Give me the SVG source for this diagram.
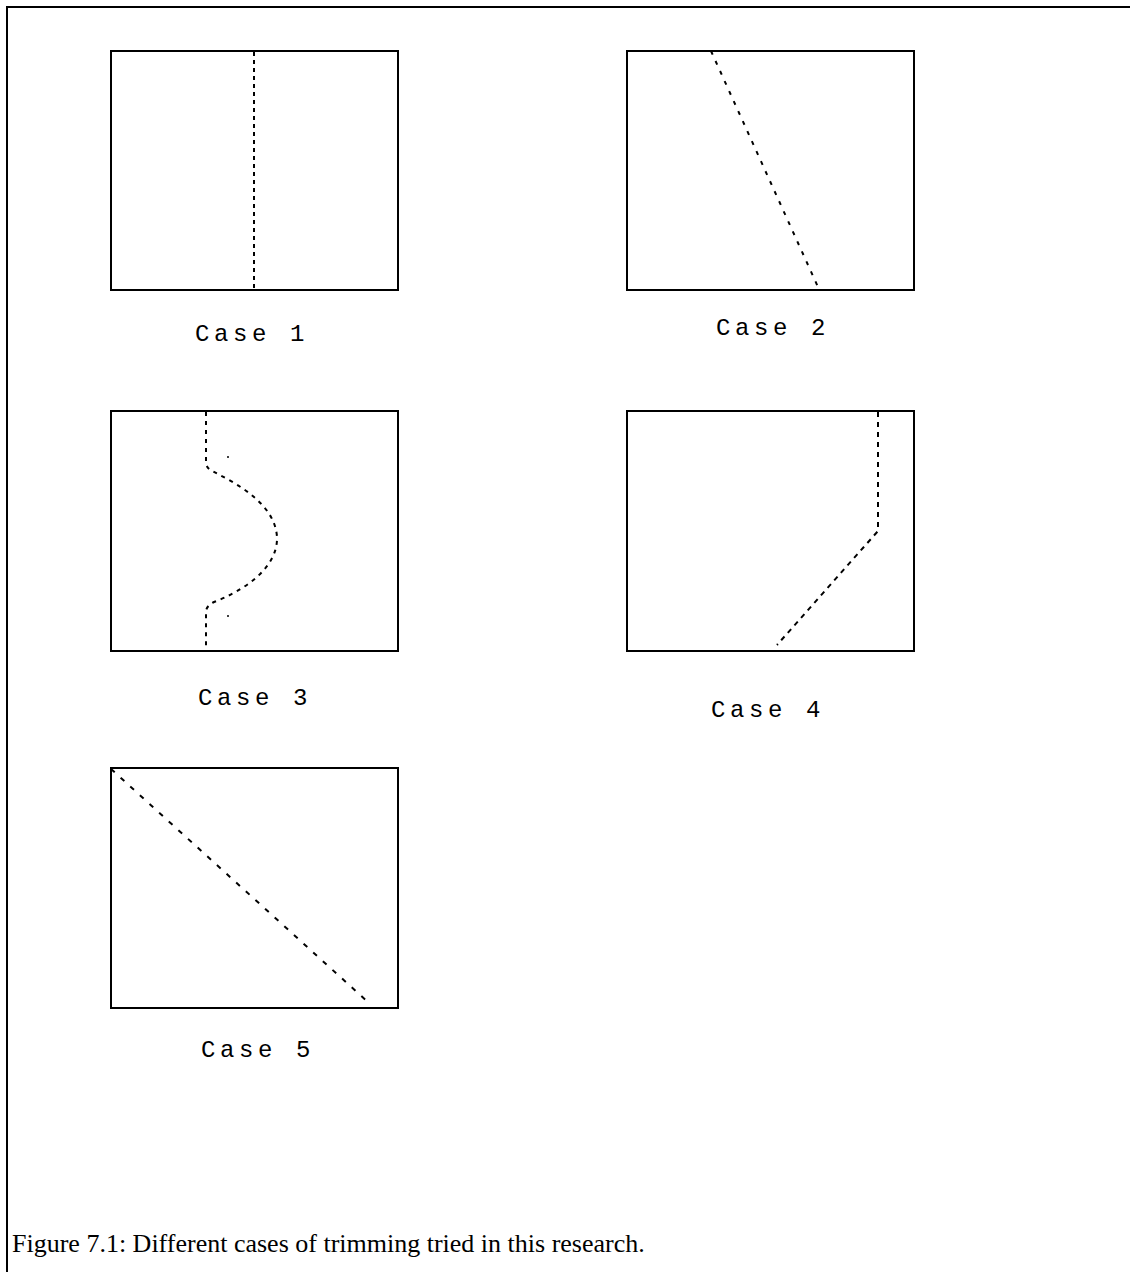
<svg xmlns="http://www.w3.org/2000/svg" width="1130" height="1272" viewBox="0 0 1130 1272">
<style>
.box{fill:none;stroke:#000;stroke-width:2}
.cut{fill:none;stroke:#000;stroke-width:2}
.lbl{font-family:"Liberation Mono","DejaVu Sans Mono",monospace;font-size:24px;letter-spacing:4.6px;fill:#000}
.cap{font-family:"Liberation Serif","Times New Roman",serif;font-size:26px;fill:#000}
</style>
<rect width="1130" height="1272" fill="#fff"/>
<g id="frame">
<line x1="6" y1="7" x2="1130" y2="7" stroke="#000" stroke-width="2"/>
<line x1="7" y1="6" x2="7" y2="1272" stroke="#000" stroke-width="2"/>
</g>
<g id="case1">
<rect class="box" x="111" y="51" width="287" height="239"/>
<line class="cut" x1="254" y1="52" x2="254" y2="288" stroke-dasharray="4 4"/>
<text class="lbl" x="195" y="341">Case 1</text>
</g>
<g id="case2">
<rect class="box" x="627" y="51" width="287" height="239"/>
<line class="cut" x1="711" y1="51" x2="818" y2="287" stroke-dasharray="4 7"/>
<text class="lbl" x="716" y="335">Case 2</text>
</g>
<g id="case3">
<rect class="box" x="111" y="411" width="287" height="240"/>
<path class="cut" d="M206,412 V462 Q206,468 212,471 C240,485 275,505 277,537 C278,570 240,592 214,602 Q206,606 206,612 V650" stroke-dasharray="4 5"/>
<circle cx="228" cy="457" r="1" fill="#000"/>
<circle cx="228" cy="616" r="1" fill="#000"/>
<text class="lbl" x="198" y="705">Case 3</text>
</g>
<g id="case4">
<rect class="box" x="627" y="411" width="287" height="240"/>
<path class="cut" d="M878,412 V531 L777,645" stroke-dasharray="5 5"/>
<text class="lbl" x="711" y="717">Case 4</text>
</g>
<g id="case5">
<rect class="box" x="111" y="768" width="287" height="240"/>
<line class="cut" x1="111" y1="769" x2="369" y2="1003" stroke-dasharray="5 8"/>
<text class="lbl" x="201" y="1057">Case 5</text>
</g>
<text class="cap" x="12" y="1252">Figure 7.1: Different cases of trimming tried in this research.</text>
</svg>
